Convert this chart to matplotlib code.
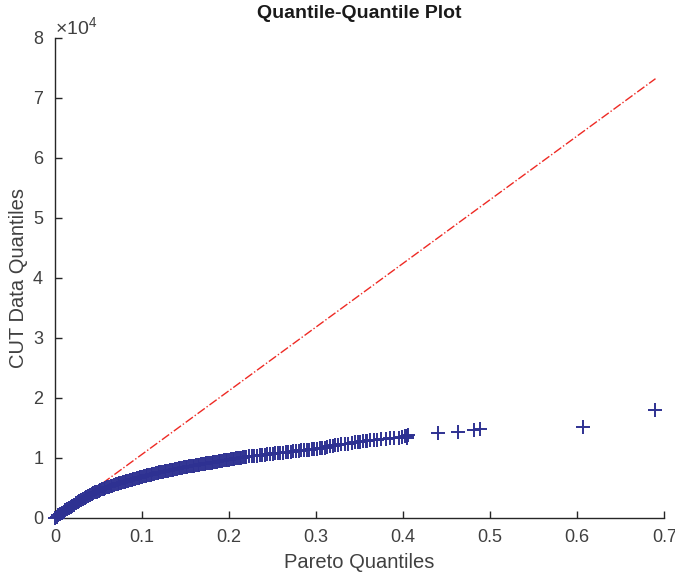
import matplotlib
matplotlib.use('Agg')
import matplotlib.pyplot as plt
from matplotlib.ticker import ScalarFormatter

plt.rcParams['font.family'] = ['Liberation Sans', 'DejaVu Sans']
plt.rcParams['mathtext.fontset'] = 'custom'
plt.rcParams['mathtext.rm'] = 'Liberation Sans'

# Pareto theoretical quantiles (x) vs CUT data quantiles (y)
pareto_q = [
    0, 0.002, 0.004, 0.006, 0.008, 0.010, 0.012, 0.014, 0.016, 0.018,
    0.020, 0.022, 0.024, 0.026, 0.028, 0.030, 0.032, 0.034, 0.036, 0.038,
    0.040, 0.042, 0.044, 0.046, 0.048, 0.050, 0.052, 0.054, 0.056, 0.058,
    0.060, 0.062, 0.064, 0.066, 0.068, 0.070, 0.072, 0.074, 0.076, 0.078,
    0.080, 0.082, 0.084, 0.086, 0.088, 0.090, 0.092, 0.094, 0.096, 0.098,
    0.100, 0.102, 0.104, 0.106, 0.108, 0.110, 0.112, 0.114, 0.116, 0.118,
    0.120, 0.122, 0.124, 0.126, 0.128, 0.130, 0.132, 0.134, 0.136, 0.138,
    0.140, 0.142, 0.144, 0.146, 0.148, 0.150, 0.152, 0.154, 0.156, 0.158,
    0.160, 0.162, 0.164, 0.166, 0.168, 0.170, 0.172, 0.174, 0.176, 0.178,
    0.180, 0.182, 0.184, 0.186, 0.188, 0.190, 0.192, 0.194, 0.196, 0.198,
    0.200, 0.202, 0.204, 0.206, 0.208, 0.210, 0.212, 0.214, 0.216, 0.218,
    0.220, 0.223, 0.226, 0.229, 0.232, 0.235, 0.238, 0.241, 0.244, 0.247,
    0.250, 0.253, 0.256, 0.259, 0.262, 0.265, 0.268, 0.271, 0.274, 0.277,
    0.280, 0.283, 0.286, 0.289, 0.292, 0.295, 0.298, 0.301, 0.304, 0.307,
    0.310, 0.313, 0.316, 0.319, 0.322, 0.325, 0.329, 0.333, 0.337, 0.341,
    0.345, 0.348, 0.351, 0.354, 0.357, 0.359, 0.362, 0.366, 0.370, 0.375,
    0.380, 0.385, 0.390, 0.395, 0.399, 0.402, 0.404, 0.405, 0.406,
    0.440, 0.463, 0.482, 0.488, 0.607, 0.690]
cut_q = [
    0, 210, 420, 630, 840, 1050, 1250, 1450, 1650, 1850,
    2050, 2240, 2430, 2620, 2800, 2980, 3150, 3320, 3490, 3650,
    3810, 3960, 4110, 4250, 4390, 4520, 4640, 4760, 4880, 4990,
    5100, 5200, 5300, 5400, 5500, 5600, 5690, 5780, 5870, 5960,
    6050, 6140, 6220, 6300, 6380, 6460, 6540, 6620, 6700, 6780,
    6860, 6940, 7020, 7090, 7160, 7230, 7300, 7370, 7440, 7510,
    7580, 7650, 7710, 7770, 7830, 7890, 7950, 8010, 8070, 8130,
    8190, 8250, 8310, 8370, 8430, 8490, 8540, 8590, 8640, 8690,
    8740, 8790, 8840, 8890, 8940, 8990, 9040, 9090, 9140, 9190,
    9240, 9290, 9340, 9390, 9440, 9490, 9540, 9590, 9640, 9690,
    9740, 9790, 9840, 9890, 9930, 9970, 10010, 10050, 10090, 10130,
    10170, 10250, 10300, 10350, 10400, 10450, 10500, 10550, 10600, 10650,
    10700, 10750, 10800, 10850, 10900, 10950, 11000, 11050, 11100, 11150,
    11200, 11250, 11300, 11350, 11400, 11450, 11500, 11550, 11600, 11650,
    11700, 11900, 11950, 12000, 12100, 12150, 12250, 12350, 12400, 12500,
    12600, 12650, 12700, 12800, 12850, 12900, 12950, 13000, 13050, 13150,
    13200, 13250, 13350, 13400, 13500, 13600, 13700, 13400, 13900,
    14100, 14300, 14700, 14900, 15100, 18000]

# reference line endpoints
line_x = [0, 0.690]
line_y = [0, 73200]

fig = plt.figure(figsize=(6.75, 5.74), dpi=100)
ax = fig.add_axes([0.0815, 0.0976, 0.9025, 0.8364])

ax.plot(pareto_q, cut_q, '+', color='#2E3192', markersize=10.5, markeredgewidth=1.4,
        clip_on=False, zorder=3)
ax.plot(line_x, line_y, linestyle='-.', color='#EE2A24', linewidth=1.0, zorder=2)

ax.set_xlim(0, 0.7)
ax.set_ylim(0, 80000)
ax.set_xticks([0, 0.1, 0.2, 0.3, 0.4, 0.5, 0.6, 0.7])
ax.set_xticklabels(['0', '0.1', '0.2', '0.3', '0.4', '0.5', '0.6', '0.7'])
ax.set_yticks(range(0, 80001, 10000))

fmt = ScalarFormatter(useMathText=True)
fmt.set_powerlimits((0, 0))
ax.yaxis.set_major_formatter(fmt)
ax.yaxis.get_offset_text().set_fontsize(14)
ax.yaxis.get_offset_text().set_color('#404040')

for side in ['top', 'right']:
    ax.spines[side].set_visible(False)
for side in ['left', 'bottom']:
    ax.spines[side].set_color('#262626')
    ax.spines[side].set_linewidth(1.0)

ax.tick_params(direction='in', length=5, width=1, colors='#262626',
               labelcolor='#404040', labelsize=13, pad=8)

ax.set_xlabel('Pareto Quantiles', fontsize=14.5, color='#404040', labelpad=5)
ax.set_ylabel('CUT Data Quantiles', fontsize=14.5, color='#404040', labelpad=3)
ax.set_title('Quantile-Quantile Plot', fontsize=14, fontweight='bold', color='#1a1a1a', pad=14)

fig.savefig('out.png', dpi=100)
